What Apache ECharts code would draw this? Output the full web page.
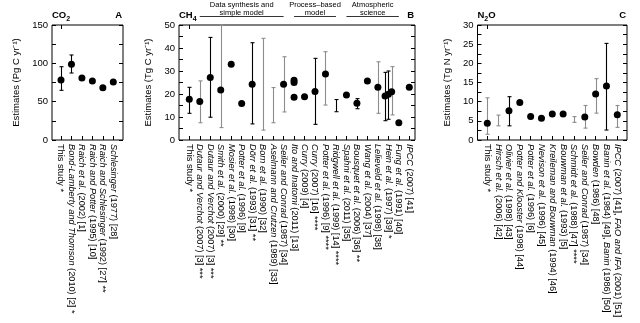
<!DOCTYPE html>
<html><head><meta charset="utf-8">
<script src="https://cdn.jsdelivr.net/npm/echarts@6/dist/echarts.min.js"></script>
<style>html,body{margin:0;padding:0;background:#fff}#c{width:640px;height:323px}</style>
</head><body><div id="c"></div>
<script>
// ---------- Panel A: CO2 (Pg C / yr) ----------
const co2Cats = ['This study *','Bond-Lamberty and Thomson (2010) [2] *','Raich et al. (2002) [1]','Raich and Potter (1995) [10]','Raich and Schlesinger (1992) [27] **','Schlesinger (1977) [28]'];
const co2Values = [78.3, 98.7, 80.9, 77.0, 68.2, 75.7];
const co2Low    = [64.8, 87.4, null, null, null, null];
const co2High   = [95.6, 110.9, null, null, null, null];
const co2Gray   = [0, 0, 0, 0, 0, 0];
const co2Ticks  = [0, 50, 100, 150];

// ---------- Panel B: CH4 (Tg C / yr) ----------
const ch4Cats = ['This study *','Dutaur and Verchot (2007) [3] ***','Dutaur and Verchot (2007) [3] ***','Smith et al. (2000) [29] **','Mosier et al. (1998) [30]','Potter et al. (1996) [9]','Dörr et al. (1993) [31] **','Born et al. (1990) [32]','Aselmann and Crutzen (1989) [33]','Seiler and Conrad (1987) [34]','Ito and Inatomi (2011) [13]','Curry (2009) [4]','Curry (2007) [16] ****','Potter et al. (1996) [9] ****','Ridgwell et al. (1999) [14] ****','Spahni et al. (2011) [35]','Bousquet et al. (2006) [36] **','Wang et al. (2004) [37]','Lelieveld et al. (1998) [38]','Hein et al. (1997) [39] *','Fung et al. (1991) [40]','IPCC (2007) [41]'];
const ch4Values = [17.7, 16.7, 27.2, 21.7, 32.9, 15.9, 24.2, null, null, 24.2, 18.6, 18.8, 21.1, 28.7, null, 19.6, 16.0, 25.7, 22.9, null, 7.5, 22.9];
const ch4Low    = [11.6, 7.5, 9.9, 5.4, null, null, 7.0, 4.3, 7.5, 12.2, null, null, 6.8, 15.2, 12.3, null, 13.6, null, 11.6, null, null, null];
const ch4High   = [22.9, 25.7, 44.6, 50, null, null, 42.3, 44.2, 22.8, 36.2, null, null, 35.5, 38.4, 17.6, null, 18.0, null, 34.0, null, null, null];
const ch4Gray   = [0, 1, 0, 1, 0, 0, 0, 1, 1, 1, 0, 0, 0, 1, 0, 0, 0, 0, 1, 0, 0, 0];
// extra estimates of Ito and Inatomi (2011)
const ch4ItoExtra = [26.0, 25.0];
// three estimates of Hein et al. (1997)
const ch4HeinValues = [19.1, 19.9, 21.0];
const ch4HeinLow    = [8.4, 9.0, 10.9];
const ch4HeinHigh   = [29.4, 30.0, 31.9];
const ch4HeinGray   = [0, 0, 1];
const ch4Ticks = [0, 10, 20, 30, 40, 50];
const ch4Groups = [
  {text: 'Data synthesis and\nsimple model', from: 1, to: 9},
  {text: 'Process\u2013based\nmodel', from: 10, to: 14},
  {text: 'Atmospheric\nscience', from: 15, to: 20}
];

// ---------- Panel C: N2O (Tg N / yr) ----------
const n2oCats = ['This study *','Hirsch et al. (2006) [42]','Olivier et al. (1998) [43]','Potter and Klooster (1998) [44]','Potter et al. (1996) [6]','Nevison et al. (1996) [45]','Kreileman and Bouwman (1994) [46]','Bouwman et al. (1993) [5]','Schmidt et al. (1988) [47] ****','Seiler and Conrad (1987) [34]','Bowden (1986) [48]','Banin et al. (1984) [49], Banin (1986) [50]','IPCC (2007) [41], FAO and IFA (2001) [51]'];
const n2oValues = [4.35, null, 7.6, 9.8, 6.1, 5.7, 6.8, 6.8, null, 6.0, 12.0, 14.1, 6.6];
const n2oLow    = [1.5, 3.7, 3.7, null, null, null, null, null, 4.6, 3.1, 7.0, 2.6, 3.3];
const n2oHigh   = [11.0, 6.5, 11.3, null, null, null, null, null, 6.1, 9.0, 16.0, 25.2, 9.0];
const n2oGray   = [1, 1, 0, 0, 0, 0, 0, 0, 1, 1, 1, 0, 1];
const n2oTicks  = [0, 5, 10, 15, 20, 25, 30];

// ---------- layout ----------
const FONT = '"Liberation Sans", Arial, Helvetica, sans-serif';
const TOP = 25, HEIGHT = 115;
const LABEL_SIZE = 9.2;
const panels = [
  {title: ['CO', '2', ''], letter: 'A', yName: 'Estimates (Pg C yr\u207B\u00B9)', cats: co2Cats, vals: co2Values, lo: co2Low, hi: co2High, gray: co2Gray, ticks: co2Ticks,
   frame: [52, 123], centers: [61, 113.3], nameGap: 31},
  {title: ['CH', '4', ''], letter: 'B', yName: 'Estimates (Tg C yr\u207B\u00B9)', cats: ch4Cats, vals: ch4Values, lo: ch4Low, hi: ch4High, gray: ch4Gray, ticks: ch4Ticks,
   frame: [179, 415], centers: [189.3, 409.3], nameGap: 26},
  {title: ['N', '2', 'O'], letter: 'C', yName: 'Estimates (Tg N yr\u207B\u00B9)', cats: n2oCats, vals: n2oValues, lo: n2oLow, hi: n2oHigh, gray: n2oGray, ticks: n2oTicks,
   frame: [477.5, 627], centers: [487.3, 617.3], nameGap: 25}
];

function has(v){ return v !== null && v !== undefined; }
function rows(p){
  const out = [];
  p.cats.forEach((c, i) => {
    const hv = has(p.vals[i]), hb = has(p.lo[i]);
    if (!hv && !hb) return;
    out.push([i, hv ? p.vals[i] : p.lo[i], hb ? p.lo[i] : 0, hb ? p.hi[i] : 0, p.gray[i], 0, hv ? 1 : 0, hb ? 1 : 0]);
  });
  return out;
}
const panelRows = panels.map(rows);
// Ito extra points
ch4ItoExtra.forEach(v => panelRows[1].push([10, v, 0, 0, 0, 0, 1, 0]));
// Hein three estimates, spread around the category centre
ch4HeinValues.forEach((v, k) => panelRows[1].push([19, v, ch4HeinLow[k], ch4HeinHigh[k], ch4HeinGray[k], k - 1, 1, 1]));

function renderItem(params, api){
  const x = api.value(0), y = api.value(1), lo = api.value(2), hi = api.value(3);
  const gray = api.value(4), slot = api.value(5), hasPt = api.value(6), hasBar = api.value(7);
  const dx = slot * 3.3;
  const ch = [];
  const col = gray ? '#8c8c8c' : '#000';
  if (hasBar) {
    const a = api.coord([x, lo]), b = api.coord([x, hi]);
    const cx = Math.round(a[0] + dx) + 0.5;
    ch.push({type: 'line', shape: {x1: cx, y1: a[1], x2: cx, y2: b[1]}, style: {stroke: col, lineWidth: 1.1}});
    ch.push({type: 'line', shape: {x1: cx - 2, y1: a[1], x2: cx + 2, y2: a[1]}, style: {stroke: col, lineWidth: 1.1}});
    ch.push({type: 'line', shape: {x1: cx - 2, y1: b[1], x2: cx + 2, y2: b[1]}, style: {stroke: col, lineWidth: 1.1}});
  }
  if (hasPt) {
    const c = api.coord([x, y]);
    ch.push({type: 'circle', shape: {cx: c[0] + dx, cy: c[1], r: 3.5}, style: {fill: '#000'}, z2: 10});
  }
  return {type: 'group', children: ch};
}

function labelFmt(s){
  if (s.indexOf('This study') === 0) return '{r|' + s + '}';
  const parts = s.split(/(\(\d{4}\) \[\d+\][,\s*]*)/);
  let out = '';
  parts.forEach((t, i) => { if (!t) return; out += (i % 2 ? '{r|' : '{it|') + t + '}'; });
  return out;
}

const grids = [], xAxes = [], yAxes = [], series = [];
panels.forEach((p, k) => {
  const n = p.cats.length;
  const sp = (p.centers[1] - p.centers[0]) / (n - 1);
  const dLeft = p.centers[0] - sp / 2;
  const step = p.ticks[1] - p.ticks[0];
  const yMin = p.ticks[0], yMax = p.ticks[p.ticks.length - 1];
  grids.push({left: p.frame[0], top: TOP, width: p.frame[1] - p.frame[0], height: HEIGHT, show: true, borderColor: '#000', borderWidth: 1, backgroundColor: 'transparent', containLabel: false});
  grids.push({left: dLeft, top: TOP, width: sp * n, height: HEIGHT, containLabel: false});
  const fg = 2 * k, dg = 2 * k + 1;
  xAxes.push({type: 'value', gridIndex: fg, show: false, min: 0, max: 1});
  xAxes.push({type: 'category', gridIndex: dg, data: p.cats, boundaryGap: true, position: 'bottom',
    axisLine: {show: false}, axisTick: {show: true, inside: true, alignWithLabel: true, length: 4, lineStyle: {color: '#000', width: 1}},
    axisLabel: {interval: 0, rotate: -90, margin: 4, fontSize: LABEL_SIZE, color: '#000', fontFamily: FONT, formatter: labelFmt,
      rich: {it: {fontStyle: 'italic', fontSize: LABEL_SIZE, fontFamily: FONT, color: '#000'}, r: {fontSize: LABEL_SIZE, fontFamily: FONT, color: '#000'}}},
    splitLine: {show: false}});
  xAxes.push({type: 'category', gridIndex: dg, data: p.cats, boundaryGap: true, position: 'top',
    axisLine: {show: false}, axisTick: {show: true, inside: true, alignWithLabel: true, length: 4, lineStyle: {color: '#000', width: 1}},
    axisLabel: {show: false}, splitLine: {show: false}});
  yAxes.push({type: 'value', gridIndex: fg, min: yMin, max: yMax, interval: step / 2, position: 'left',
    axisLine: {show: false}, axisTick: {show: true, inside: true, length: 4, lineStyle: {color: '#000', width: 1}},
    axisLabel: {fontSize: 9.5, color: '#000', fontFamily: FONT, margin: 4, formatter: v => p.ticks.indexOf(v) >= 0 ? String(v) : ''},
    splitLine: {show: false},
    name: p.yName, nameLocation: 'middle', nameRotate: 90, nameGap: p.nameGap,
    nameTextStyle: {fontSize: 9.5, color: '#000', fontFamily: FONT}});
  yAxes.push({type: 'value', gridIndex: fg, min: yMin, max: yMax, interval: step / 2, position: 'right',
    axisLine: {show: false}, axisTick: {show: true, inside: true, length: 4, lineStyle: {color: '#000', width: 1}},
    axisLabel: {show: false}, splitLine: {show: false}});
  yAxes.push({type: 'value', gridIndex: dg, min: yMin, max: yMax, show: false});
  series.push({type: 'custom', xAxisIndex: 3 * k + 1, yAxisIndex: 3 * k + 2, renderItem: renderItem,
    data: panelRows[k], clip: false, silent: true,
    encode: {x: 0, y: 1}});
});

const chart = echarts.init(document.getElementById('c'), null, {renderer: 'canvas'});
chart.setOption({animation: false, backgroundColor: '#fff', grid: grids, xAxis: xAxes, yAxis: yAxes, series: series});

// titles and group annotations
const ctx = document.createElement('canvas').getContext('2d');
function tw(t, f){ ctx.font = f; return ctx.measureText(t).width; }
const TF = 'bold 9.5px ' + FONT, SF = 'bold 7px ' + FONT;
const gfx = [];
panels.forEach((p, k) => {
  let x = p.frame[0];
  const y = 19;
  gfx.push({type: 'text', left: x, top: y - 9, silent: true, style: {text: p.title[0], font: TF, fill: '#000'}});
  x += tw(p.title[0], TF);
  gfx.push({type: 'text', left: x, top: y - 3, silent: true, style: {text: p.title[1], font: SF, fill: '#000'}});
  x += tw(p.title[1], SF);
  if (p.title[2]) gfx.push({type: 'text', left: x, top: y - 9, silent: true, style: {text: p.title[2], font: TF, fill: '#000'}});
  gfx.push({type: 'text', right: 640 - p.frame[1] + 1, top: y - 9, silent: true, style: {text: p.letter, font: TF, fill: '#000'}});
});
ch4Groups.forEach(g => {
  const x1 = chart.convertToPixel({xAxisIndex: 4}, g.from);
  const x2 = chart.convertToPixel({xAxisIndex: 4}, g.to);
  gfx.push({type: 'line', silent: true, shape: {x1: x1, y1: 16.5, x2: x2, y2: 16.5}, style: {stroke: '#000', lineWidth: 0.8}});
  gfx.push({type: 'text', silent: true, x: (x1 + x2) / 2, y: 1.5, style: {text: g.text, font: '7.5px ' + FONT, fill: '#000', textAlign: 'center', lineHeight: 7.5}});
});
chart.setOption({graphic: gfx});
</script>
</body></html>
